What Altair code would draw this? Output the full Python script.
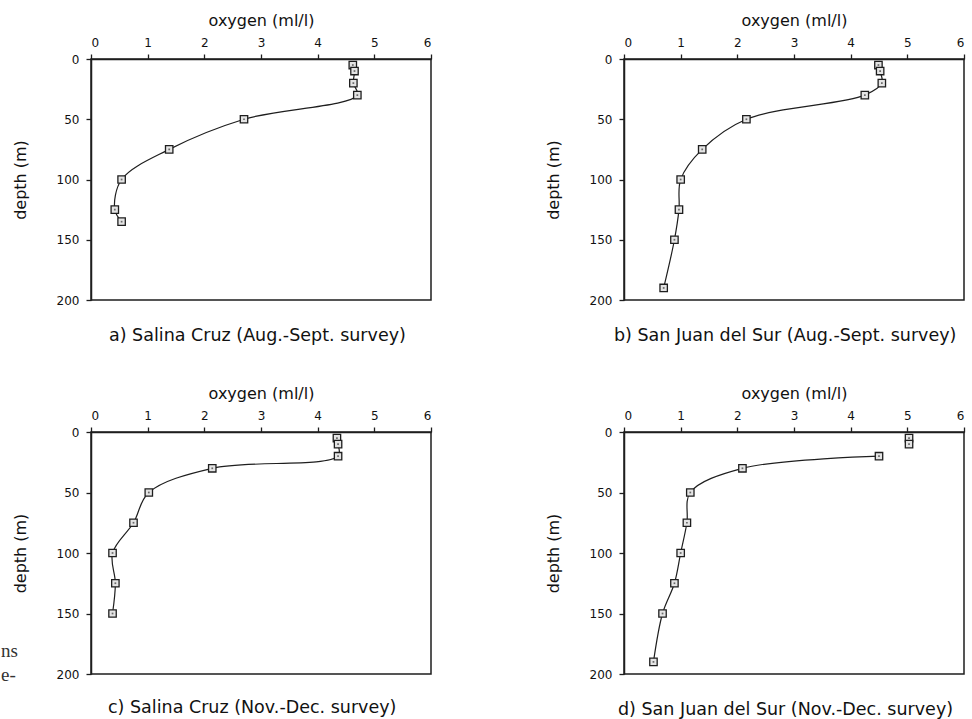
import altair as alt
import pandas as pd

# ---- data ----
x_ticks = [0, 1, 2, 3, 4, 5, 6]
y_ticks = [0, 50, 100, 150, 200]

a_depth = [5, 10, 20, 30, 50, 75, 100, 125, 135]
a_oxy = [4.62, 4.65, 4.63, 4.70, 2.70, 1.38, 0.54, 0.42, 0.54]
a_curve = [True] * 9

b_depth = [5, 10, 20, 30, 50, 75, 100, 125, 150, 190]
b_oxy = [4.49, 4.52, 4.55, 4.25, 2.16, 1.38, 1.00, 0.97, 0.89, 0.70]
b_curve = [True] * 10

c_depth = [5, 10, 20, 30, 50, 75, 100, 125, 150]
c_oxy = [4.34, 4.36, 4.36, 2.14, 1.02, 0.75, 0.38, 0.43, 0.38]
c_curve = [True] * 9

d_depth = [5, 10, 20, 30, 50, 75, 100, 125, 150, 190]
d_oxy = [5.03, 5.03, 4.50, 2.09, 1.17, 1.11, 1.00, 0.89, 0.68, 0.52]
d_curve = [False, False, True, True, True, True, True, True, True, True]

captions = [
    "a) Salina Cruz (Aug.-Sept. survey)",
    "b) San Juan del Sur (Aug.-Sept. survey)",
    "c) Salina Cruz (Nov.-Dec. survey)",
    "d) San Juan del Sur (Nov.-Dec. survey)",
]
margin_text = ["ns", "e-"]

INK = "#1e1e1e"
FONT = "DejaVu Sans"


def panel(depth, oxy, curve, caption, dx, height, dy=0, extra=None):
    df = pd.DataFrame({"depth": depth, "oxygen": oxy, "curve": curve})
    base = alt.Chart(df)
    x = alt.X(
        "oxygen:Q",
        scale=alt.Scale(domain=[0, 6], nice=False, zero=True),
        axis=alt.Axis(orient="top", values=x_ticks, title="oxygen (ml/l)",
                      labelPadding=5, titlePadding=8, format="d"),
    )
    y = alt.Y(
        "depth:Q",
        scale=alt.Scale(domain=[0, 200], reverse=True, nice=False),
        axis=alt.Axis(values=y_ticks, title="depth (m)", labelPadding=7,
                      titlePadding=28, format="d"),
    )
    line = (
        base.transform_filter("datum.curve")
        .mark_line(interpolate="catmull-rom", color=INK, strokeWidth=1.2)
        .encode(x=x, y=y, order="depth:Q")
    )
    pts = base.mark_square(size=55, filled=True, fill="#e4e4e4", stroke=INK,
                           strokeWidth=1.3, opacity=1).encode(x=x, y=y)
    dots = base.mark_square(size=3, filled=True, color="#6a6a6a",
                            opacity=1).encode(x=x, y=y)
    layers = [line, pts, dots] + (extra or [])
    return alt.layer(*layers).properties(
        width=340,
        height=height,
        title=alt.TitleParams(
            text=caption, orient="bottom", anchor="start", frame="group",
            dx=dx, dy=dy, offset=21, font=FONT, fontSize=17.5,
            fontWeight="normal", color="#111",
        ),
    )


frag1 = alt.Chart(pd.DataFrame({"t": [margin_text[0]]})).mark_text(
    align="left", baseline="alphabetic", font="Liberation Serif",
    fontSize=19, color="#333").encode(text="t:N", x=alt.value(-90), y=alt.value(225))
frag2 = alt.Chart(pd.DataFrame({"t": [margin_text[1]]})).mark_text(
    align="left", baseline="alphabetic", font="Liberation Serif",
    fontSize=19, color="#333").encode(text="t:N", x=alt.value(-90), y=alt.value(249))

pa = panel(a_depth, a_oxy, a_curve, captions[0], 18, 241)
pb = panel(b_depth, b_oxy, b_curve, captions[1], -10, 241)
pc = panel(c_depth, c_oxy, c_curve, captions[2], 17, 242, dy=-7, extra=[frag1, frag2])
pd_ = panel(d_depth, d_oxy, d_curve, captions[3], -6, 242)

chart = (
    alt.concat(pa, pb, pc, pd_, columns=2, bounds="flush",
               spacing={"row": 132, "column": 193})
    .properties(padding={"left": 0, "top": 11, "right": 0, "bottom": 0})
    .configure(background="white")
    .configure_view(stroke=INK, strokeWidth=1.5)
    .configure_axis(
        grid=False, domainColor=INK, domainWidth=1.5, tickColor=INK,
        tickWidth=1.3, tickSize=5, labelFont=FONT, labelFontSize=12,
        labelColor="#111", titleFont=FONT, titleFontSize=16,
        titleFontWeight="normal", titleColor="#111",
    )
)

chart.save("out.html", embed_options={"renderer": "svg", "actions": False})
